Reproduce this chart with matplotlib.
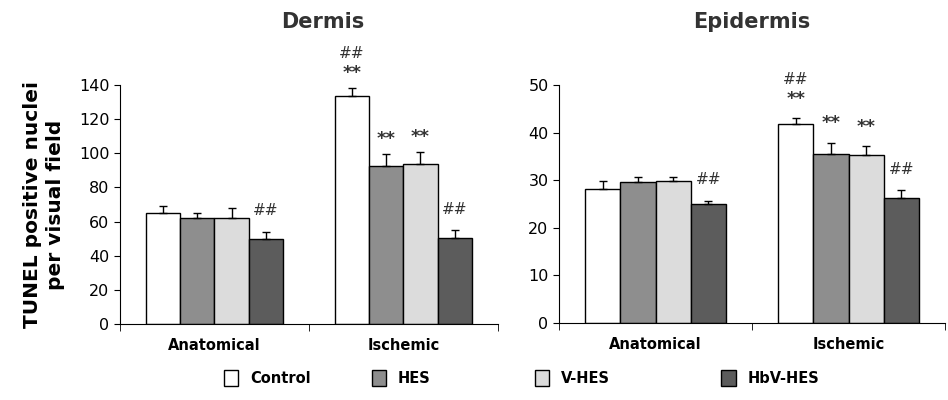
import numpy as np
import matplotlib
matplotlib.use("Agg")
import matplotlib.pyplot as plt
from matplotlib.patches import Patch

# Data
groups = ["Anatomical", "Ischemic"]
treatments = ["Control", "HES", "V-HES", "HbV-HES"]
colors = ["#ffffff", "#8e8e8e", "#dcdcdc", "#5c5c5c"]

dermis_mean = [[65, 133.5], [62, 92.5], [62, 93.5], [49.5, 50.5]]
dermis_err = [[4, 4.5], [3, 7], [6, 7], [4.5, 4.5]]
dermis_stars = [["", "**"], ["", "**"], ["", "**"], ["", ""]]
dermis_hash = [["", "##"], ["", ""], ["", ""], ["##", "##"]]

epi_mean = [[28.2, 41.9], [29.7, 35.6], [29.9, 35.3], [25.0, 26.2]]
epi_err = [[1.6, 1.1], [1.0, 2.3], [0.8, 1.8], [0.7, 1.7]]
epi_stars = [["", "**"], ["", "**"], ["", "**"], ["", ""]]
epi_hash = [["", "##"], ["", ""], ["", ""], ["##", "##"]]

BAR_W = 0.182


def draw_panel(ax, means, errs, stars, hashes, ymax, ystep, star_pt):
    x = np.arange(len(groups))
    for i, name in enumerate(treatments):
        pos = x + (i - 1.5) * BAR_W
        m = np.array(means[i])
        e = np.array(errs[i])
        ax.bar(pos, m, BAR_W, color=colors[i], edgecolor="black", linewidth=1.0,
               label=name, zorder=2)
        ax.errorbar(pos, m, yerr=[np.zeros_like(e), e], fmt="none", ecolor="black",
                    elinewidth=1.0, capsize=3, capthick=1.0, zorder=3)
        for j in range(len(groups)):
            dy = 0
            if stars[i][j]:
                dy = star_pt
                ax.annotate(stars[i][j], (pos[j], m[j] + e[j]), xytext=(0, dy),
                            textcoords="offset points", ha="center", va="center",
                            fontsize=13, fontweight="bold", color="#333333")
                dy += 14
            else:
                dy = 15
            if hashes[i][j]:
                ax.annotate(hashes[i][j], (pos[j], m[j] + e[j]), xytext=(0, dy),
                            textcoords="offset points", ha="center", va="center",
                            fontsize=11, color="#333333")
    ax.set_xlim(-0.5, 1.5)
    ax.set_ylim(0, ymax)
    ax.set_yticks(np.arange(0, ymax + 1, ystep))
    ax.set_xticks([0, 1])
    ax.set_xticklabels(groups)
    ax.set_xticks([-0.5, 0.5, 1.5], minor=True)
    ax.tick_params(axis="x", which="major", length=0, pad=10, labelsize=10.5)
    ax.tick_params(axis="x", which="minor", length=5, direction="out")
    ax.tick_params(axis="y", labelsize=11.5, length=4, direction="out")
    for t in ax.get_xticklabels():
        t.set_fontweight("bold")
    for s in ["top", "right"]:
        ax.spines[s].set_visible(False)


fig = plt.figure(figsize=(9.48, 4.0), dpi=100)
ax1 = fig.add_axes([0.1266, 0.19, 0.3984, 0.5975])
ax2 = fig.add_axes([0.5897, 0.1925, 0.4073, 0.595])

draw_panel(ax1, dermis_mean, dermis_err, dermis_stars, dermis_hash, 140, 20, 11)
draw_panel(ax2, epi_mean, epi_err, epi_stars, epi_hash, 50, 10, 14)

fig.text(0.34, 0.945, "Dermis", ha="center", va="center", fontsize=15,
         fontweight="bold", color="#333333")
fig.text(0.793, 0.945, "Epidermis", ha="center", va="center", fontsize=15,
         fontweight="bold", color="#333333")
ax1.set_ylabel("TUNEL positive nuclei\nper visual field", fontsize=14.5,
               fontweight="bold", labelpad=10, linespacing=1.25)

# legend entries placed one by one to match the uneven spacing
leg_x = [0.236, 0.392, 0.564, 0.761]
for i, name in enumerate(treatments):
    h = Patch(facecolor=colors[i], edgecolor="black", linewidth=1.0)
    leg = fig.legend([h], [name], loc="center left", bbox_to_anchor=(leg_x[i], 0.055),
                     frameon=False, fontsize=10.5, handlelength=1.0, handleheight=1.3,
                     handletextpad=0.8, borderpad=0, borderaxespad=0)
    for t in leg.get_texts():
        t.set_fontweight("bold")

fig.savefig("out.png", dpi=100)
